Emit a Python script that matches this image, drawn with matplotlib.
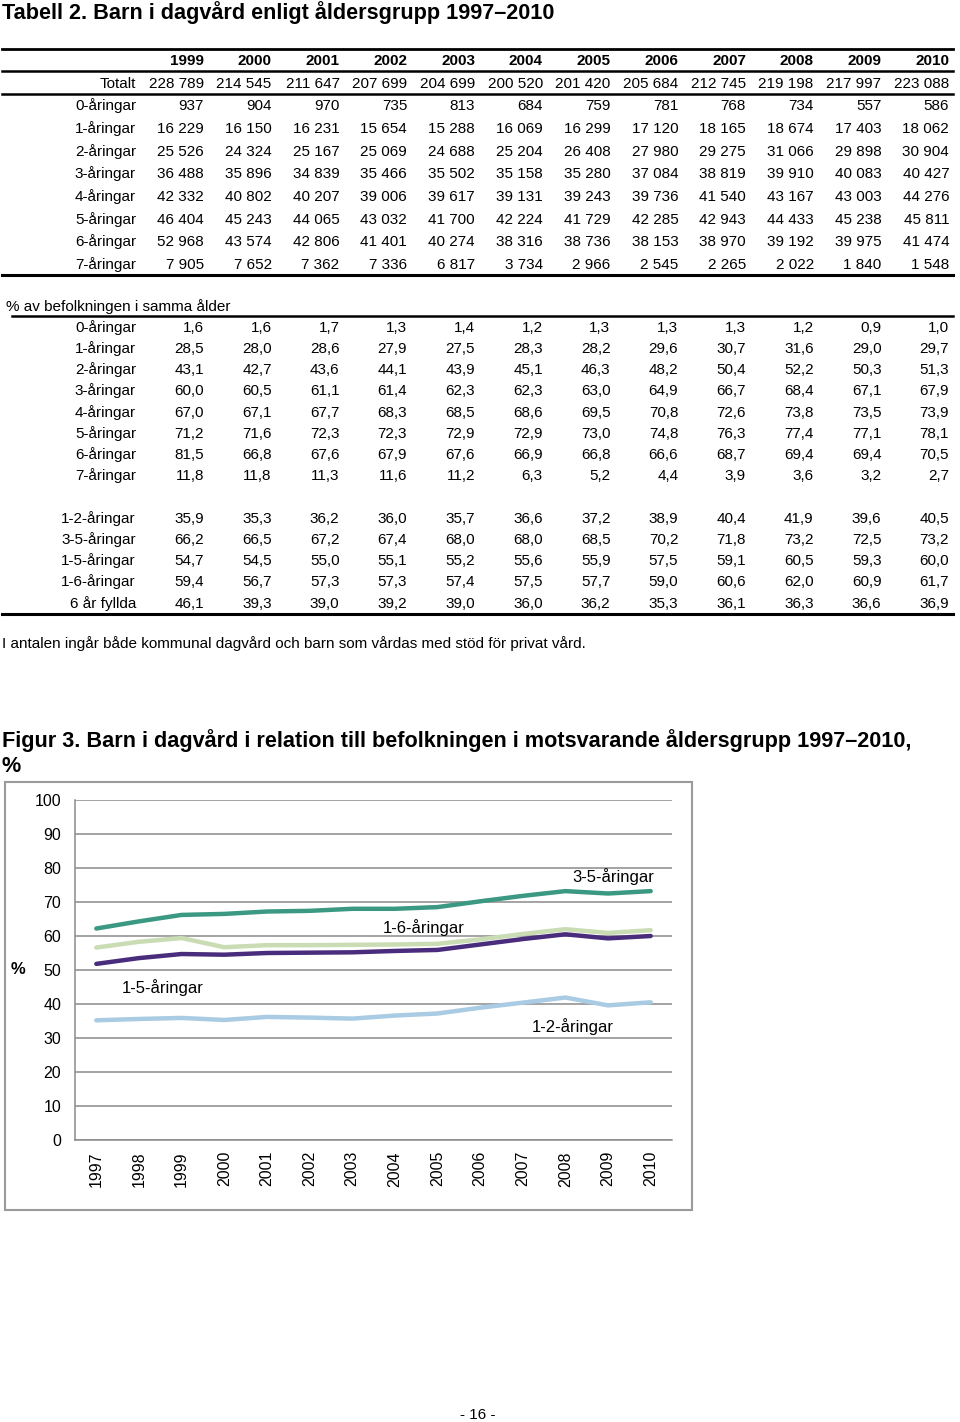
import matplotlib
matplotlib.use('Agg')
import matplotlib.pyplot as plt
from matplotlib.lines import Line2D
from matplotlib.patches import Rectangle

plt.rcParams['font.family'] = ['Liberation Sans', 'DejaVu Sans']

W, H = 960, 1422

# ---- table data ----
table_years = ['1999', '2000', '2001', '2002', '2003', '2004', '2005',
               '2006', '2007', '2008', '2009', '2010']

count_labels = ['Totalt', '0-åringar', '1-åringar', '2-åringar', '3-åringar',
                '4-åringar', '5-åringar', '6-åringar', '7-åringar']
totalt = [228789, 214545, 211647, 207699, 204699, 200520, 201420, 205684, 212745, 219198, 217997, 223088]
n0 = [937, 904, 970, 735, 813, 684, 759, 781, 768, 734, 557, 586]
n1 = [16229, 16150, 16231, 15654, 15288, 16069, 16299, 17120, 18165, 18674, 17403, 18062]
n2 = [25526, 24324, 25167, 25069, 24688, 25204, 26408, 27980, 29275, 31066, 29898, 30904]
n3 = [36488, 35896, 34839, 35466, 35502, 35158, 35280, 37084, 38819, 39910, 40083, 40427]
n4 = [42332, 40802, 40207, 39006, 39617, 39131, 39243, 39736, 41540, 43167, 43003, 44276]
n5 = [46404, 45243, 44065, 43032, 41700, 42224, 41729, 42285, 42943, 44433, 45238, 45811]
n6 = [52968, 43574, 42806, 41401, 40274, 38316, 38736, 38153, 38970, 39192, 39975, 41474]
n7 = [7905, 7652, 7362, 7336, 6817, 3734, 2966, 2545, 2265, 2022, 1840, 1548]
counts = [totalt, n0, n1, n2, n3, n4, n5, n6, n7]

pct_labels = ['0-åringar', '1-åringar', '2-åringar', '3-åringar',
              '4-åringar', '5-åringar', '6-åringar', '7-åringar']
p0 = [1.6, 1.6, 1.7, 1.3, 1.4, 1.2, 1.3, 1.3, 1.3, 1.2, 0.9, 1.0]
p1 = [28.5, 28.0, 28.6, 27.9, 27.5, 28.3, 28.2, 29.6, 30.7, 31.6, 29.0, 29.7]
p2 = [43.1, 42.7, 43.6, 44.1, 43.9, 45.1, 46.3, 48.2, 50.4, 52.2, 50.3, 51.3]
p3 = [60.0, 60.5, 61.1, 61.4, 62.3, 62.3, 63.0, 64.9, 66.7, 68.4, 67.1, 67.9]
p4 = [67.0, 67.1, 67.7, 68.3, 68.5, 68.6, 69.5, 70.8, 72.6, 73.8, 73.5, 73.9]
p5 = [71.2, 71.6, 72.3, 72.3, 72.9, 72.9, 73.0, 74.8, 76.3, 77.4, 77.1, 78.1]
p6 = [81.5, 66.8, 67.6, 67.9, 67.6, 66.9, 66.8, 66.6, 68.7, 69.4, 69.4, 70.5]
p7 = [11.8, 11.8, 11.3, 11.6, 11.2, 6.3, 5.2, 4.4, 3.9, 3.6, 3.2, 2.7]
pcts = [p0, p1, p2, p3, p4, p5, p6, p7]

grp_labels = ['1-2-åringar', '3-5-åringar', '1-5-åringar', '1-6-åringar', '6 år fyllda']
g12 = [35.9, 35.3, 36.2, 36.0, 35.7, 36.6, 37.2, 38.9, 40.4, 41.9, 39.6, 40.5]
g35 = [66.2, 66.5, 67.2, 67.4, 68.0, 68.0, 68.5, 70.2, 71.8, 73.2, 72.5, 73.2]
g15 = [54.7, 54.5, 55.0, 55.1, 55.2, 55.6, 55.9, 57.5, 59.1, 60.5, 59.3, 60.0]
g16 = [59.4, 56.7, 57.3, 57.3, 57.4, 57.5, 57.7, 59.0, 60.6, 62.0, 60.9, 61.7]
g6f = [46.1, 39.3, 39.0, 39.2, 39.0, 36.0, 36.2, 35.3, 36.1, 36.3, 36.6, 36.9]
grps = [g12, g35, g15, g16, g6f]

# ---- chart data (1997, 1998) ----
chart_years = ['1997', '1998', '1999', '2000', '2001', '2002', '2003', '2004',
               '2005', '2006', '2007', '2008', '2009', '2010']
c35 = [62.2, 64.3] + g35
c16 = [56.6, 58.3] + g16
c15 = [51.8, 53.5] + g15
c12 = [35.2, 35.6] + g12


def fx(x):
    return x / W


def fy(y):
    return 1 - y / H


def hline(fig, y, x0, x1, lw=1.5, color='black'):
    fig.add_artist(Line2D([fx(x0), fx(x1)], [fy(y), fy(y)], lw=lw, color=color))


def fmt_int(v):
    return '{:,}'.format(v).replace(',', ' ')


def fmt_pct(v):
    return '{:.1f}'.format(v).replace('.', ',')


fig = plt.figure(figsize=(W / 100, H / 100), dpi=100)

fig.text(fx(2), fy(13), 'Tabell 2. Barn i dagvård enligt åldersgrupp 1997–2010',
         fontsize=15.6, fontweight='bold', va='center', ha='left')

col_right = [204 + i * 67.75 for i in range(12)]
label_right = 136
fs = 11

# header + count rows
hline(fig, 49, 2, 953, lw=2)
for x, yr in zip(col_right, table_years):
    fig.text(fx(x), fy(61), yr, fontsize=fs, fontweight='bold', ha='right', va='center')
hline(fig, 71, 2, 953, lw=1.8)
hline(fig, 94, 2, 953, lw=1.8)

row_y = [84, 106, 129, 152, 174, 197, 220, 242, 265]
for y, lab, vals in zip(row_y, count_labels, counts):
    fig.text(fx(label_right), fy(y), lab, fontsize=fs, ha='right', va='center')
    for x, v in zip(col_right, vals):
        fig.text(fx(x), fy(y), fmt_int(v), fontsize=fs, ha='right', va='center')
hline(fig, 275, 2, 953, lw=2.2)

# percent rows
fig.text(fx(6), fy(307), '% av befolkningen i samma ålder', fontsize=fs, ha='left', va='center')
hline(fig, 316, 12, 953, lw=1.8)
prow_y = [328, 349, 370, 391, 413, 434, 455, 476]
for y, lab, vals in zip(prow_y, pct_labels, pcts):
    fig.text(fx(label_right), fy(y), lab, fontsize=fs, ha='right', va='center')
    for x, v in zip(col_right, vals):
        fig.text(fx(x), fy(y), fmt_pct(v), fontsize=fs, ha='right', va='center')

grow_y = [519, 540, 561, 582, 604]
for y, lab, vals in zip(grow_y, grp_labels, grps):
    fig.text(fx(label_right), fy(y), lab, fontsize=fs, ha='right', va='center')
    for x, v in zip(col_right, vals):
        fig.text(fx(x), fy(y), fmt_pct(v), fontsize=fs, ha='right', va='center')
hline(fig, 614, 2, 953, lw=2.2)

fig.text(fx(2), fy(644), 'I antalen ingår både kommunal dagvård och barn som vårdas med stöd för privat vård.',
         fontsize=fs, ha='left', va='center')

# figure title
fig.text(fx(2), fy(741), 'Figur 3. Barn i dagvård i relation till befolkningen i motsvarande åldersgrupp 1997–2010,',
         fontsize=15.6, fontweight='bold', ha='left', va='center')
fig.text(fx(2), fy(766), '%', fontsize=15.6, fontweight='bold', ha='left', va='center')

# chart frame
fig.add_artist(Rectangle((fx(5), fy(1210)), fx(687), (1210 - 782) / H,
                         fill=False, edgecolor='#9a9a9a', lw=1.5))

ax = fig.add_axes([fx(75), fy(1140), fx(597), 340 / H])
x = list(range(len(chart_years)))
ax.plot(x, c12, color='#a9cbe3', lw=3.2, solid_capstyle='round', zorder=3)
ax.plot(x, c16, color='#c9dcb3', lw=3.2, solid_capstyle='round', zorder=3)
ax.plot(x, c15, color='#4a2c7c', lw=3.2, solid_capstyle='round', zorder=4)
ax.plot(x, c35, color='#3b9882', lw=3.2, solid_capstyle='round', zorder=4)

ax.set_xlim(-0.5, len(chart_years) - 0.5)
ax.set_ylim(0, 100)
ax.set_yticks(range(0, 101, 10))
ax.set_xticks(x)
ax.set_xticklabels(chart_years, rotation=90)
ax.tick_params(axis='y', length=0, pad=10, labelsize=11.5)
ax.tick_params(axis='x', length=0, pad=8, labelsize=11.5)
ax.grid(axis='y', color='#8a8a8a', lw=1.1)
ax.set_axisbelow(True)
for s in ['top', 'right']:
    ax.spines[s].set_visible(False)
for s in ['left', 'bottom']:
    ax.spines[s].set_color('#8a8a8a')
    ax.spines[s].set_linewidth(1.1)

ax.text(12.12, 77.6, '3-5-åringar', fontsize=12, ha='center', va='center')
ax.text(7.68, 62.4, '1-6-åringar', fontsize=12, ha='center', va='center')
ax.text(1.56, 44.7, '1-5-åringar', fontsize=12, ha='center', va='center')
ax.text(11.18, 33.5, '1-2-åringar', fontsize=12, ha='center', va='center')

fig.text(fx(18), fy(970), '%', fontsize=12, fontweight='bold', ha='center', va='center')

fig.text(fx(478), fy(1415), '- 16 -', fontsize=11, ha='center', va='center')

fig.savefig('out.png', dpi=100)
